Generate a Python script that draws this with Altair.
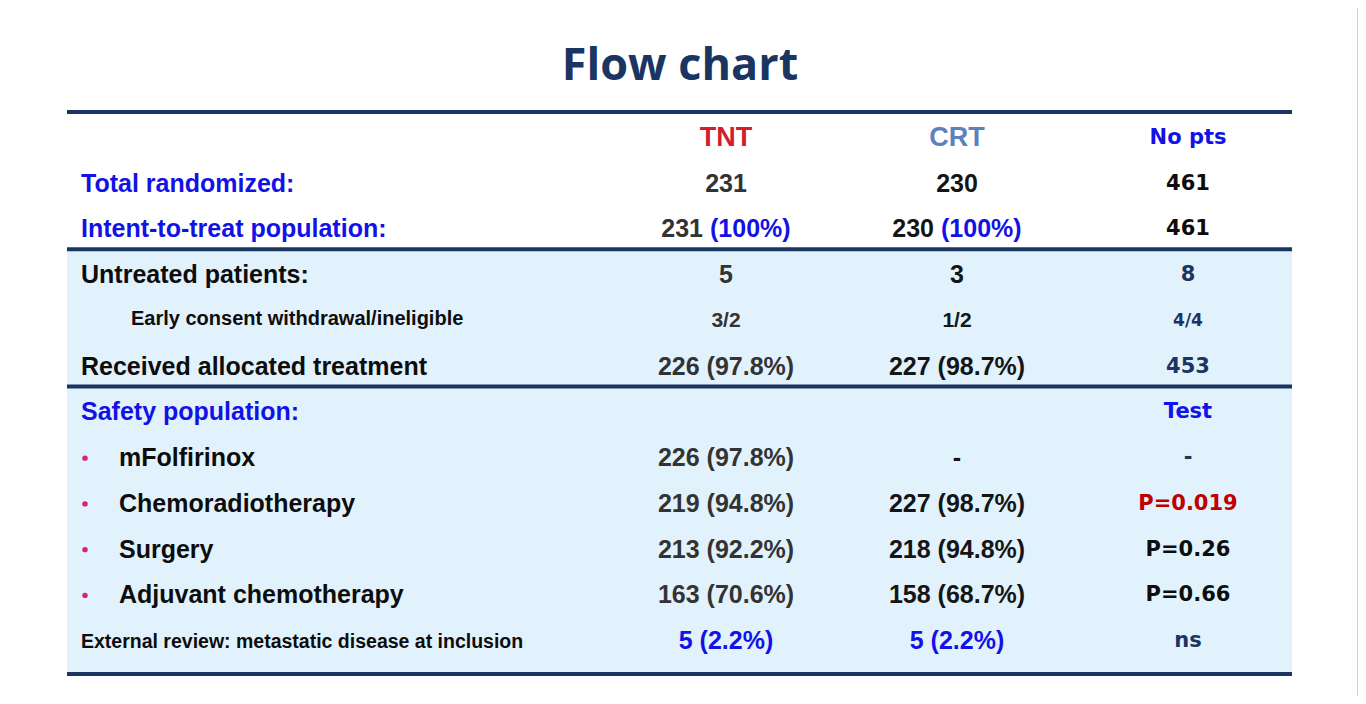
import altair as alt
import pandas as pd

# ---------------- data ----------------
title_text = ["Flow chart"]
row_keys = [
    "header",
    "Total randomized:",
    "Intent-to-treat population:",
    "Untreated patients:",
    "Early consent withdrawal/ineligible",
    "Received allocated treatment",
    "Safety population:",
    "mFolfirinox",
    "Chemoradiotherapy",
    "Surgery",
    "Adjuvant chemotherapy",
    "External review: metastatic disease at inclusion",
]
columns = ["TNT", "CRT", "No pts"]
tnt_values = ["TNT", "231", "231 (100%)", "5", "3/2", "226 (97.8%)", "",
              "226 (97.8%)", "219 (94.8%)", "213 (92.2%)", "163 (70.6%)", "5 (2.2%)"]
crt_values = ["CRT", "230", "230 (100%)", "3", "1/2", "227 (98.7%)", "",
              "-", "227 (98.7%)", "218 (94.8%)", "158 (68.7%)", "5 (2.2%)"]
nopts_values = ["No pts", "461", "461", "8", "4/4", "453", "Test",
                "-", "P=0.019", "P=0.26", "P=0.66", "ns"]

blue_label_rows = ["Total randomized:", "Intent-to-treat population:", "Safety population:"]
main_label_rows = ["Total randomized:", "Intent-to-treat population:", "Untreated patients:",
                   "Received allocated treatment", "Safety population:"]
bullet_rows = ["mFolfirinox", "Chemoradiotherapy", "Surgery", "Adjuvant chemotherapy"]
sub_rows = ["Early consent withdrawal/ineligible"]
note_rows = ["External review: metastatic disease at inclusion"]
split_rows = ["Intent-to-treat population:"]
section_starts = ["header", "Untreated patients:", "Safety population:"]
shaded_start = ["Untreated patients:"]

# ---------------- tables ----------------
cells = []
for i, r in enumerate(row_keys):
    for c, vals in zip(columns, [tnt_values, crt_values, nopts_values]):
        cells.append({"row": r, "col": c, "text": vals[i]})
cells = pd.DataFrame(cells)
labels = pd.DataFrame({"row": row_keys[1:], "label": row_keys[1:]})

# ---------------- style ----------------
NAVY = "#1B3563"
BLUE = "#1212E6"
SHADE = "#E2F2FC"
LABEL_FONT = "Liberation Sans"
PTS_FONT = "DejaVu Sans"
X0, X1 = 59, 1284
BOTTOM = 566

yscale = alt.Scale(type="band", domain=row_keys, range=[4, 553], paddingInner=0, paddingOuter=0)
Y = alt.Y("row:N", scale=yscale, axis=None)
xscale = alt.Scale(type="point", domain=columns, range=[718, 1180], padding=0)
X = alt.X("col:N", scale=xscale, axis=None)

title = alt.Chart(pd.DataFrame({"title": title_text})).mark_text(
    align="center", baseline="alphabetic", font="Open Sans", fontSize=45, fontWeight="bold", color=NAVY
).encode(text="title:N", x=alt.value(672), y=alt.value(-28))

shade = alt.Chart(pd.DataFrame({"row": shaded_start})).mark_rect(color=SHADE).encode(
    y=alt.Y("row:N", scale=yscale, axis=None, bandPosition=0),
    y2=alt.value(BOTTOM),
    x=alt.value(X0), x2=alt.value(X1),
)

rules = alt.Chart(pd.DataFrame({"row": section_starts})).mark_rule(color=NAVY, strokeWidth=4).encode(
    y=alt.Y("row:N", scale=yscale, axis=None, bandPosition=0),
    x=alt.value(X0), x2=alt.value(X1),
)
bottom_rule = alt.Chart(pd.DataFrame({"row": note_rows})).mark_rule(color=NAVY, strokeWidth=4).encode(
    y=alt.value(BOTTOM),
    x=alt.value(X0), x2=alt.value(X1),
)
frame_rule = alt.Chart(pd.DataFrame({"row": note_rows})).mark_rule(color="#CFCFCF", strokeWidth=2).encode(
    x=alt.value(1350), y=alt.value(-100), y2=alt.value(588),
)

lab = alt.Chart(labels)
main_labels = lab.transform_filter(alt.FieldOneOfPredicate(field="row", oneOf=main_label_rows)).mark_text(
    align="left", baseline="middle", font=LABEL_FONT, fontWeight="bold", fontSize=25, dy=3
).encode(
    y=Y, x=alt.value(73), text="label:N",
    color=alt.when(alt.FieldOneOfPredicate(field="row", oneOf=blue_label_rows))
    .then(alt.value(BLUE)).otherwise(alt.value("#0D0D0D")),
)
bullet_labels = lab.transform_filter(alt.FieldOneOfPredicate(field="row", oneOf=bullet_rows)).mark_text(
    align="left", baseline="middle", font=LABEL_FONT, fontWeight="bold", fontSize=25, color="#0D0D0D", dy=3
).encode(y=Y, x=alt.value(111), text="label:N")
sub_labels = lab.transform_filter(alt.FieldOneOfPredicate(field="row", oneOf=sub_rows)).mark_text(
    align="left", baseline="middle", font=LABEL_FONT, fontWeight="bold", fontSize=20, color="#0D0D0D", dy=1
).encode(y=Y, x=alt.value(123), text="label:N")
note_labels = lab.transform_filter(alt.FieldOneOfPredicate(field="row", oneOf=note_rows)).mark_text(
    align="left", baseline="middle", font=LABEL_FONT, fontWeight="bold", fontSize=19.5, color="#0D0D0D", dy=4
).encode(y=Y, x=alt.value(73), text="label:N")
bullets = lab.transform_filter(alt.FieldOneOfPredicate(field="row", oneOf=bullet_rows)).mark_circle(
    size=30, color="#D6246E", opacity=1, yOffset=3
).encode(y=Y, x=alt.value(77))

cell = alt.Chart(cells)
is_split = alt.FieldOneOfPredicate(field="row", oneOf=split_rows)
arm_cells = cell.transform_filter(alt.FieldOneOfPredicate(field="col", oneOf=["TNT", "CRT"]))
arm_plain = arm_cells.transform_filter(~is_split).mark_text(
    align="center", baseline="middle", font=LABEL_FONT, fontWeight="bold", dy=3
).encode(
    x=X, y=Y, text="text:N",
    color=alt.when((alt.datum.row == "header") & (alt.datum.col == "TNT")).then(alt.value("#D0202E"))
    .when(alt.datum.row == "header").then(alt.value("#5B82BC"))
    .when(alt.FieldOneOfPredicate(field="row", oneOf=note_rows)).then(alt.value(BLUE))
    .when(alt.datum.col == "TNT").then(alt.value("#333333"))
    .otherwise(alt.value("#151515")),
    size=alt.when(alt.datum.row == "header").then(alt.value(27))
    .when(alt.FieldOneOfPredicate(field="row", oneOf=sub_rows)).then(alt.value(21))
    .otherwise(alt.value(25)),
)
arm_split = arm_cells.transform_filter(is_split).transform_calculate(
    num="split(datum.text, ' ')[0]", pct="split(datum.text, ' ')[1]"
)
split_num = arm_split.mark_text(align="right", baseline="middle", font=LABEL_FONT, fontWeight="bold",
                                fontSize=25, dx=-23, dy=3).encode(
    x=X, y=Y, text="num:N",
    color=alt.when(alt.datum.col == "TNT").then(alt.value("#333333")).otherwise(alt.value("#151515")),
)
split_pct = arm_split.mark_text(align="left", baseline="middle", font=LABEL_FONT, fontWeight="bold",
                                fontSize=25, dx=-16, dy=3, color=BLUE).encode(x=X, y=Y, text="pct:N")

pts_cells = cell.transform_filter(alt.datum.col == "No pts").mark_text(
    align="center", baseline="middle", font=PTS_FONT, fontWeight="bold", dy=3
).encode(
    x=X, y=Y, text="text:N",
    color=alt.when(alt.FieldOneOfPredicate(field="row", oneOf=["header", "Safety population:"])).then(alt.value(BLUE))
    .when(alt.FieldOneOfPredicate(field="row", oneOf=["Total randomized:", "Intent-to-treat population:", "Surgery", "Adjuvant chemotherapy"])).then(alt.value("#0D0D0D"))
    .when(alt.datum.row == "Chemoradiotherapy").then(alt.value("#C00000"))
    .otherwise(alt.value(NAVY)),
    size=alt.when(alt.FieldOneOfPredicate(field="row", oneOf=sub_rows)).then(alt.value(17))
    .otherwise(alt.value(21)),
)

chart = alt.layer(
    title, shade, rules, bottom_rule, frame_rule, main_labels, bullet_labels, sub_labels, note_labels, bullets,
    arm_plain, split_num, split_pct, pts_cells,
).properties(
    width=1350, height=588,
    padding={"left": 0, "top": 100, "right": 0, "bottom": 0},
    autosize=alt.AutoSizeParams(type="none"),
).configure_view(stroke=None)

chart.save("out.html", embed_options={"renderer": "svg", "actions": False})
